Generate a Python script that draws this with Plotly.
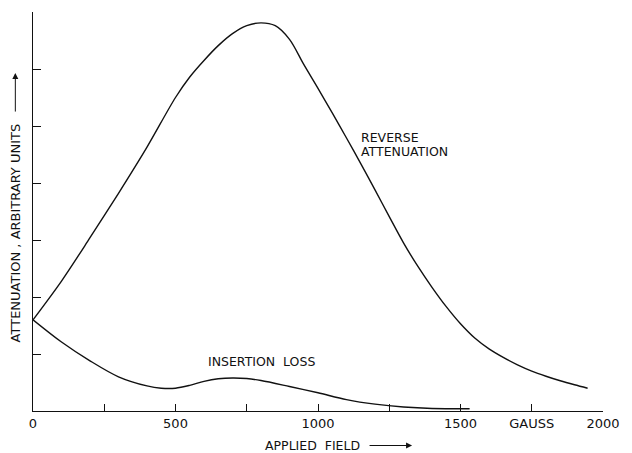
import plotly.graph_objects as go

# Applied field (gauss) and attenuation (arbitrary units)
rev_x = [0, 100, 200, 300, 400, 500, 550, 600, 650, 700, 750, 800, 850, 900, 950, 1000,
         1050, 1100, 1150, 1200, 1250, 1300, 1350, 1400, 1450, 1500, 1550, 1600, 1650,
         1700, 1750, 1800, 1850, 1900, 1946]
rev_y = [1.60, 2.28, 3.04, 3.82, 4.63, 5.50, 5.86, 6.15, 6.41, 6.62, 6.76, 6.81, 6.76,
         6.52, 6.08, 5.66, 5.23, 4.79, 4.34, 3.88, 3.41, 2.95, 2.54, 2.17, 1.83, 1.53,
         1.28, 1.09, 0.94, 0.81, 0.70, 0.61, 0.53, 0.46, 0.40]

ins_x = [0, 100, 200, 300, 400, 450, 500, 550, 600, 650, 700, 750, 800, 900, 1000, 1100,
         1200, 1300, 1400, 1532]
ins_y = [1.60, 1.21, 0.88, 0.60, 0.44, 0.40, 0.40, 0.45, 0.52, 0.565, 0.58, 0.57, 0.535,
         0.43, 0.32, 0.20, 0.12, 0.07, 0.045, 0.04]

x_tickvals = [0, 250, 500, 750, 1000, 1250, 1500, 1750, 2000]
x_ticktext = ["0", "", "500", "", "1000", "", "1500", "GAUSS", "2000"]
y_tickvals = [0, 1, 2, 3, 4, 5, 6, 7]

FONT = "DejaVu Sans"
INK = "#111111"

fig = go.Figure()
fig.add_trace(go.Scatter(x=rev_x, y=rev_y, mode="lines", name="Reverse attenuation",
                         line=dict(color=INK, width=1.4, shape="spline", smoothing=0.9)))
fig.add_trace(go.Scatter(x=ins_x, y=ins_y, mode="lines", name="Insertion loss",
                         line=dict(color=INK, width=1.4, shape="spline", smoothing=0.9)))

fig.update_layout(
    width=632, height=453,
    margin=dict(l=33, r=19, t=12, b=42),
    paper_bgcolor="white", plot_bgcolor="white",
    showlegend=False,
    font=dict(family=FONT, color=INK, size=13),
    xaxis=dict(range=[0, 2000], tickvals=x_tickvals, ticktext=x_ticktext,
               ticks="inside", ticklen=7, tickcolor=INK, tickwidth=1,
               showline=True, linecolor=INK, linewidth=1, showgrid=False,
               zeroline=False, tickfont=dict(family=FONT, size=13, color=INK),
               fixedrange=True),
    yaxis=dict(range=[0, 7], tickvals=y_tickvals, showticklabels=False,
               ticks="inside", ticklen=8, tickcolor=INK, tickwidth=1,
               showline=True, linecolor=INK, linewidth=1, showgrid=False,
               zeroline=False, fixedrange=True),
)

ann_font = dict(family=FONT, size=12.5, color=INK)
fig.add_annotation(text="ATTENUATION , ARBITRARY UNITS", textangle=-90,
                   xref="paper", yref="paper", x=-0.031, y=0.446,
                   xanchor="center", yanchor="middle", showarrow=False,
                   font=dict(family=FONT, size=13, color=INK))
fig.add_annotation(text="", xref="paper", yref="paper", x=-0.031, y=0.847,
                   ax=0, ay=40, showarrow=True, arrowhead=2, arrowsize=1.2,
                   arrowwidth=1, arrowcolor=INK)
fig.add_annotation(text="APPLIED  FIELD", xref="paper", yref="paper", x=0.491, y=-0.0865,
                   xanchor="center", yanchor="middle", showarrow=False,
                   font=dict(family=FONT, size=12.5, color=INK))
fig.add_annotation(text="", xref="paper", yref="paper", x=0.665, y=-0.0865,
                   ax=-44, ay=0, showarrow=True, arrowhead=2, arrowsize=1.2,
                   arrowwidth=1, arrowcolor=INK)
fig.add_annotation(text="REVERSE", x=1145, y=(411 - 137.5) / 57, xref="x", yref="y",
                   xanchor="left", yanchor="middle", showarrow=False, font=ann_font)
fig.add_annotation(text="ATTENUATION", x=1145, y=(411 - 151.5) / 57, xref="x", yref="y",
                   xanchor="left", yanchor="middle", showarrow=False, font=ann_font)
fig.add_annotation(text="INSERTION  LOSS", x=800, y=0.865, xref="x", yref="y",
                   xanchor="center", yanchor="middle", showarrow=False, font=ann_font)

fig.write_html("out.html")
